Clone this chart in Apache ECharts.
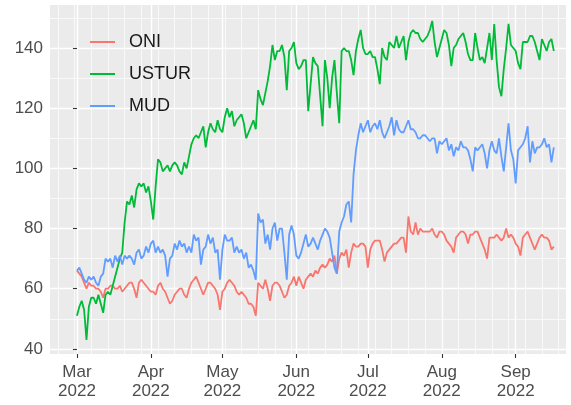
<!DOCTYPE html>
<html lang="en">
<head>
    <meta charset="UTF-8">
    <title>ONI / USTUR / MUD</title>
    <script src="https://cdn.jsdelivr.net/npm/echarts@6/dist/echarts.min.js"></script>
    <style>
        html, body { margin: 0; padding: 0; background: #ffffff; }
        #chart { width: 571px; height: 405px; }
    </style>
</head>
<body>
<div id="chart"></div>
<script>
    // one value per day, starting 1 Mar 2022 (x = days since 1 Mar 2022)
    const startYear = 2022, startMonth = 2, startDay = 1;

    const oni = [
        66, 65, 64, 62, 60, 62, 61, 61, 60, 60,
        59, 57, 60, 60, 61, 61, 60, 60, 61, 59,
        60, 61, 62, 62, 60, 57, 62, 63, 62, 61,
        60, 59, 59, 58, 61, 62, 60, 59, 57, 55,
        56, 58, 59, 60, 60, 58, 57, 60, 62, 63,
        64, 62, 60, 58, 60, 62, 62, 61, 60, 58,
        53, 59, 60, 62, 63, 62, 61, 59, 58, 59,
        58, 57, 55, 55, 54, 51, 62, 61, 60, 63,
        60, 56, 61, 62, 62, 61, 59, 57, 58, 61,
        62, 64, 61, 64, 62, 60, 63, 64, 65, 64,
        66, 65, 67, 68, 67, 68, 70, 69, 71, 65,
        70, 72, 71, 73, 67, 72, 75, 74, 74, 75,
        75, 74, 67, 73, 75, 76, 76, 76, 73, 69,
        72, 73, 74, 75, 75, 76, 77, 77, 72, 84,
        79, 78, 82, 78, 80, 79, 79, 79, 79, 80,
        78, 77, 79, 79, 78, 76, 75, 74, 72, 77,
        78, 79, 79, 78, 75, 78, 78, 79, 79, 77,
        75, 73, 70, 77, 77, 77, 78, 77, 76, 77,
        80, 77, 78, 77, 75, 74, 71, 77, 78, 79,
        77, 75, 73, 75, 77, 78, 77, 77, 76, 73,
        74
    ];

    const ustur = [
        51, 54, 56, 53, 43, 54, 57, 57, 55, 58,
        55, 52, 58, 59, 58, 61, 64, 67, 70, 72,
        82, 89, 88, 91, 87, 93, 95, 94, 95, 92,
        94, 89, 83, 94, 103, 102, 99, 100, 101, 99,
        101, 102, 101, 99, 98, 102, 100, 104, 108, 110,
        111, 110, 112, 114, 107, 112, 115, 113, 112, 116,
        113, 112, 117, 120, 117, 119, 114, 116, 117, 118,
        115, 110, 112, 114, 116, 113, 126, 123, 121, 125,
        129, 134, 141, 136, 139, 139, 141, 137, 126, 139,
        140, 142, 135, 133, 134, 136, 136, 119, 128, 137,
        135, 134, 124, 114, 136, 130, 120, 130, 136, 125,
        115, 139, 140, 139, 139, 136, 131, 139, 143, 146,
        140, 138, 138, 139, 137, 137, 133, 128, 140, 137,
        136, 142, 141, 140, 144, 140, 142, 144, 136, 142,
        145, 146, 145, 145, 143, 142, 143, 144, 146, 149,
        142, 137, 140, 143, 146, 145, 141, 134, 140, 141,
        143, 144, 145, 142, 138, 136, 136, 145, 140, 136,
        137, 135, 140, 145, 136, 148, 136, 127, 124, 133,
        140, 148, 141, 140, 139, 135, 133, 142, 142, 142,
        144, 144, 142, 139, 136, 143, 141, 139, 142, 143,
        139
    ];

    const mud = [
        66, 67, 65, 63, 62, 64, 63, 64, 62, 61,
        64, 65, 70, 69, 70, 67, 71, 69, 71, 68,
        71, 70, 71, 70, 68, 72, 73, 70, 71, 74,
        72, 75, 76, 72, 74, 72, 73, 71, 64, 70,
        71, 75, 73, 76, 74, 75, 72, 74, 72, 78,
        76, 77, 68, 73, 74, 78, 75, 77, 72, 73,
        63, 73, 78, 76, 76, 77, 72, 74, 72, 73,
        70, 72, 67, 68, 66, 63, 85, 82, 83, 75,
        78, 73, 80, 82, 76, 80, 80, 72, 63, 78,
        81, 78, 71, 70, 72, 75, 78, 74, 75, 77,
        75, 73, 76, 78, 80, 79, 77, 72, 67, 65,
        79, 82, 84, 88, 89, 82, 98, 106, 111, 115,
        112, 114, 116, 112, 114, 115, 113, 116, 112, 110,
        112, 114, 117, 111, 116, 113, 112, 112, 114, 116,
        113, 113, 112, 110, 110, 111, 111, 110, 109, 110,
        110, 105, 109, 108, 109, 110, 106, 108, 104, 107,
        106, 109, 107, 107, 106, 103, 99, 107, 106, 107,
        108, 105, 100, 106, 109, 106, 105, 110, 104, 99,
        107, 115, 106, 103, 95, 106, 107, 108, 110, 114,
        102, 109, 105, 107, 107, 108, 110, 107, 108, 102,
        107
    ];

    const seriesNames = ['ONI', 'USTUR', 'MUD'];
    const monthNames = ['Jan', 'Feb', 'Mar', 'Apr', 'May', 'Jun', 'Jul', 'Aug', 'Sep', 'Oct', 'Nov', 'Dec'];
    const xTickMonths = [2, 3, 4, 5, 6, 7, 8];           // Mar .. Sep 2022
    const yTicks = [40, 60, 80, 100, 120, 140];
    const yMinorTicks = [50, 70, 90, 110, 130, 150];

    const DAY = 86400000;
    const t0 = Date.UTC(startYear, startMonth, startDay);
    const dayIndex = (y, m, d) => Math.round((Date.UTC(y, m, d) - t0) / DAY);
    const dayDate = i => new Date(t0 + Math.round(i) * DAY);

    const monthTicks = xTickMonths.map(m => dayIndex(startYear, m, 1));
    // weekly minor grid on Mondays (21 Feb 2022 is a Monday)
    const weekTicks = [];
    for (let k = 0; k < 32; k++) weekTicks.push(dayIndex(2022, 1, 21 + 7 * k));

    const xMin = -11.3, xMax = 205.1;
    const yMin = 38.3, yMax = 154.3;

    const textFont = 'Liberation Sans';

    const myChart = echarts.init(document.getElementById('chart'));

    const option = {
        animation: false,
        color: ['#F8766D', '#00BA38', '#619CFF'],
        grid: {
            left: 50, right: 5, top: 5, bottom: 51,
            show: true, backgroundColor: '#EBEBEB', borderWidth: 0
        },
        legend: {
            data: seriesNames,
            orient: 'vertical',
            left: 85,
            top: 28,
            icon: 'rect',
            itemWidth: 25,
            itemHeight: 2,
            itemGap: 14,
            textStyle: { fontFamily: textFont, fontSize: 18, color: '#1A1A1A', padding: [0, 0, 0, 9] }
        },
        xAxis: [
            {
                type: 'value', min: xMin, max: xMax,
                axisLine: { show: false },
                axisTick: { customValues: monthTicks, length: 4, lineStyle: { color: '#333333', width: 1.1 } },
                axisLabel: {
                    customValues: monthTicks,
                    formatter: v => { const d = dayDate(v); return monthNames[d.getUTCMonth()] + '\n' + d.getUTCFullYear(); },
                    fontFamily: textFont, fontSize: 17, lineHeight: 19, color: '#4D4D4D', margin: 9
                },
                splitLine: { show: true, lineStyle: { color: '#FFFFFF', width: 1.4 } }
            },
            {
                type: 'value', min: xMin, max: xMax, position: 'bottom',
                axisLine: { show: false },
                axisTick: { show: false, customValues: weekTicks },
                axisLabel: { show: false },
                splitLine: { show: true, lineStyle: { color: '#FAFAFA', width: 0.9 } }
            }
        ],
        yAxis: [
            {
                type: 'value', min: yMin, max: yMax,
                axisLine: { show: false },
                axisTick: { show: true, customValues: yTicks, length: 4, lineStyle: { color: '#333333', width: 1.1 } },
                axisLabel: { customValues: yTicks, fontFamily: textFont, fontSize: 17, color: '#4D4D4D', margin: 7 },
                splitLine: { show: true, lineStyle: { color: '#FFFFFF', width: 1.4 } }
            },
            {
                type: 'value', min: yMin, max: yMax, position: 'left',
                axisLine: { show: false },
                axisTick: { show: false, customValues: yMinorTicks },
                axisLabel: { show: false },
                splitLine: { show: true, lineStyle: { color: '#FAFAFA', width: 0.9 } }
            }
        ],
        series: [oni, ustur, mud].map((vals, s) => ({
            name: seriesNames[s],
            type: 'line',
            xAxisIndex: 0,
            yAxisIndex: 0,
            showSymbol: false,
            lineStyle: { width: 1.8 },
            emphasis: { disabled: true },
            data: vals.map((v, i) => [i, v])
        }))
    };

    myChart.setOption(option);
</script>
</body>
</html>
